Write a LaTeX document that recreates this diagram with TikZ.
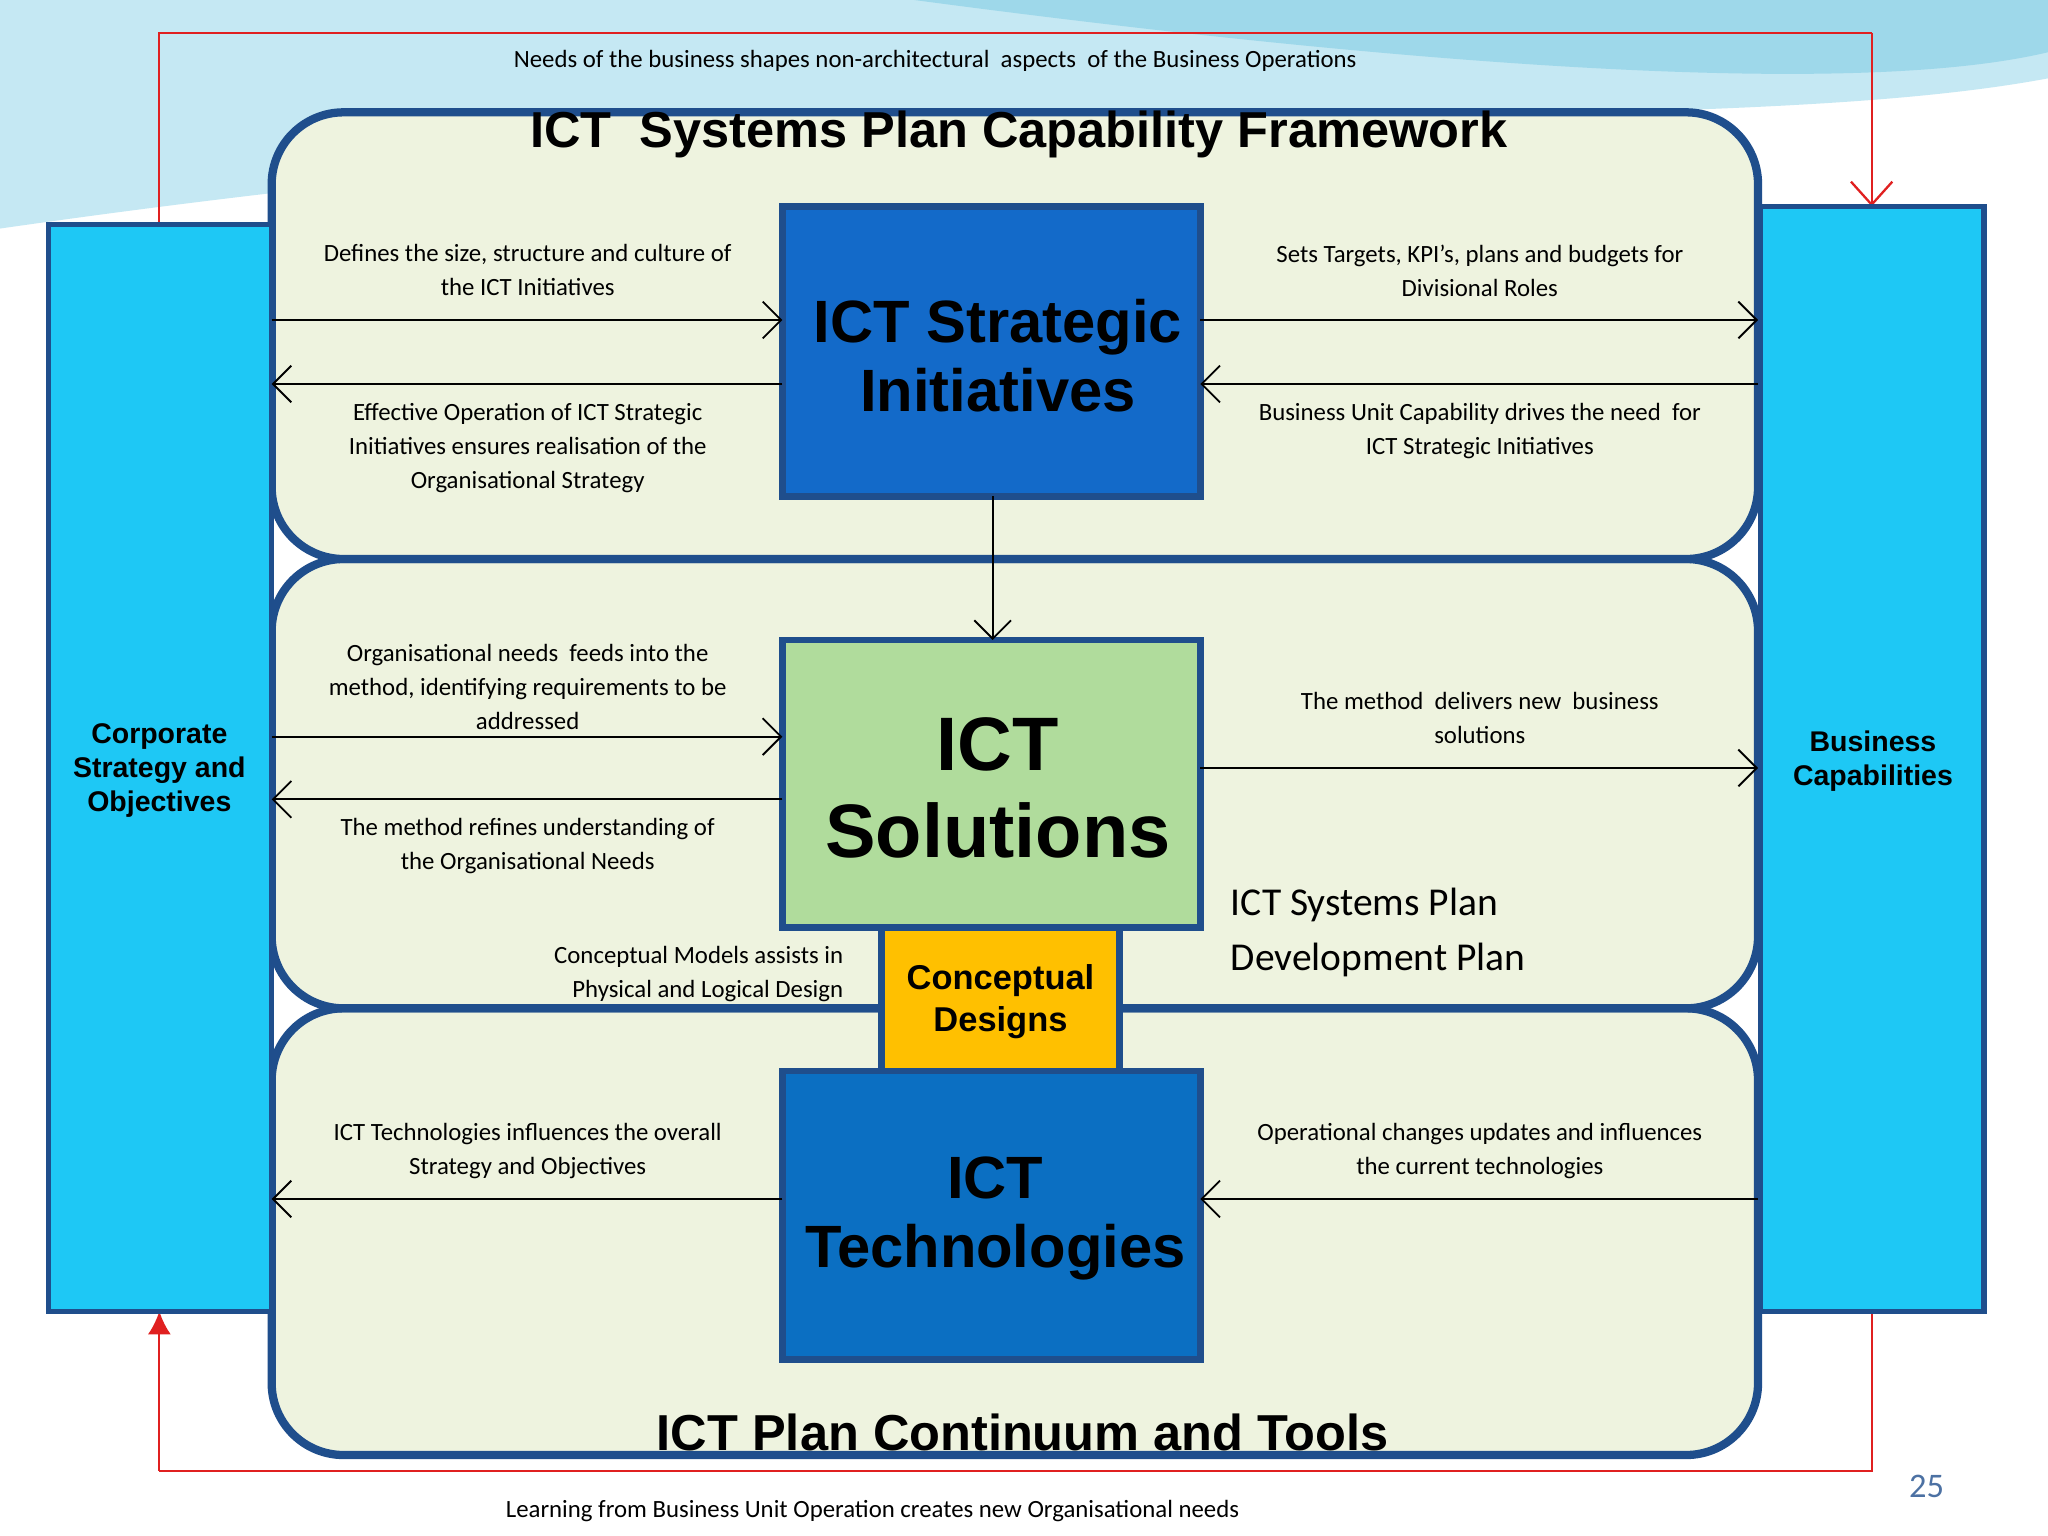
\documentclass[tikz,border=0pt]{standalone}
\usepackage{fontspec}
\setmainfont{Carlito}
\newfontfamily\hd{Liberation Sans}
\usetikzlibrary{arrows.meta}
\definecolor{barc}{HTML}{1EC8F5}
\definecolor{edge}{HTML}{1F4E8C}
\definecolor{panel}{HTML}{EEF3DF}
\definecolor{sblue}{HTML}{136AC9}
\definecolor{tblue}{HTML}{0B6FC2}
\definecolor{sgreen}{HTML}{B0DC9C}
\definecolor{cyel}{HTML}{FFC000}
\definecolor{redl}{HTML}{E02020}
\definecolor{sky}{HTML}{9ED8EA}
\tikzset{
 bar/.style={draw=edge,line width=1.2pt,fill=barc},
 pan/.style={draw=edge,line width=1.8pt,fill=panel,rounded corners=0.55cm},
 box/.style={draw=edge,line width=1.5pt},
 lab/.style={font=\fontsize{5.4}{7.4}\selectfont,align=center},
 ar/.style={-{Straight Barb[length=4pt,width=8pt]},line width=0.4pt},
 red/.style={draw=redl,line width=0.5pt},
 big/.style={font=\hd\bfseries,align=center,inner sep=0pt}
}
\begin{document}
\begin{tikzpicture}[x=0.01cm,y=-0.01cm]
\useasboundingbox (0,0) rectangle (1568,1176);
\fill[white] (0,0) rectangle (1568,1176);
\fill[sky!60] (0,0) -- (1568,0) -- (1568,60) .. controls (1300,110) and (800,60) .. (0,175) -- cycle;
\fill[sky] (700,0) -- (1568,0) -- (1568,40) .. controls (1400,80) and (1000,40) .. (700,0);
% red loop
\draw[red] (122,172) -- (122,25) -- (1433,25);
\draw[red,-{Straight Barb[length=5pt,width=9pt]}] (1433,25) -- (1433,158);
\draw[red] (1433,1004) -- (1433,1126) -- (122,1126);
\draw[red,-{Latex[length=5pt,width=5pt]}] (122,1126) -- (122,1004);
\node[lab] at (716,47) {Needs of the business shapes non-architectural\ \ aspects\ \ of the Business Operations};
\node[lab] at (668,1157) {Learning from Business Unit Operation creates new Organisational needs};
\node[font=\fontsize{7.5}{9}\selectfont,text=edge!80] at (1475,1138) {25};
% panels
\draw[pan] (208,772) rectangle (1346,1114);
\draw[pan] (208,428) rectangle (1346,772);
\draw[pan] (208,86) rectangle (1346,428);
% bars
\draw[bar] (37,172) rectangle (208,1004);
\draw[bar] (1348,158) rectangle (1519,1004);
\node[big,font=\hd\bfseries\fontsize{6.2}{7.4}\selectfont] (csb) at (122,590) {Corporate\\Strategy and\\Objectives};
\node[big,font=\hd\bfseries\fontsize{6.2}{7.4}\selectfont] (bcb) at (1434,583) {Business\\Capabilities};
\coordinate (L) at (208,0); \coordinate (R) at (1346,0);
% titles
\node[big,font=\hd\bfseries\fontsize{11}{12}\selectfont] at (780,103) {ICT\ \ Systems Plan Capability Framework};
\node[big,font=\hd\bfseries\fontsize{11}{12}\selectfont] at (783,1097) {ICT Plan Continuum and Tools};
% boxes
\draw[box,fill=sblue] (599,158) rectangle (919,380);
\node[big,font=\hd\bfseries\fontsize{13}{15}\selectfont] (st) at (764,272) {ICT Strategic\\Initiatives};
\draw[box,fill=sgreen] (599,490) rectangle (919,710);
\node[big,font=\hd\bfseries\fontsize{16.5}{19}\selectfont] (so) at (764,603) {ICT\\Solutions};
\draw[box,fill=cyel] (675,710) rectangle (857,820);
\node[big,font=\hd\bfseries\fontsize{7.5}{9}\selectfont] (cd) at (766,767) {Conceptual\\Designs};
\draw[box,fill=tblue] (599,820) rectangle (919,1041);
\node[big,font=\hd\bfseries\fontsize{13}{15}\selectfont] (te) at (762,933) {ICT\\Technologies};
% arrows top
\draw[ar] (208,245) -- (599,245);
\draw[ar] (599,294) -- (208,294);
\draw[ar] (919,245) -- (1346,245);
\draw[ar] (1346,294) -- (919,294);
\draw[ar] (760,380) -- (760,490);
\node[lab] at (404,207) {Defines the size, structure and culture of\\the ICT Initiatives};
\node[lab] at (404,343) {Effective Operation of ICT Strategic\\Initiatives ensures realisation of the\\Organisational Strategy};
\node[lab] at (1133,207) {Sets Targets, KPI’s, plans and budgets for\\Divisional Roles};
\node[lab] at (1133,330) {Business Unit Capability drives the need\ \ for\\ICT Strategic Initiatives};
% middle
\draw[ar] (208,564) -- (599,564);
\draw[ar] (599,612) -- (208,612);
\draw[ar] (919,588) -- (1346,588);
\node[lab] at (404,526) {Organisational needs\ \ feeds into the\\method, identifying requirements to be\\addressed};
\node[lab] at (404,648) {The method refines understanding of\\the Organisational Needs};
\node[lab] at (1133,550) {The method\ \ delivers new\ \ business\\solutions};
\node[lab,align=right,anchor=east] at (658,746) {Conceptual Models assists in\\Physical and Logical Design};
\node[align=left,anchor=west,font=\fontsize{8.6}{12}\selectfont] at (930,714) {ICT Systems Plan\\Development Plan};
% bottom
\draw[ar] (599,918) -- (208,918);
\draw[ar] (1346,918) -- (919,918);
\node[lab] at (404,881) {ICT Technologies influences the overall\\Strategy and Objectives};
\node[lab] at (1133,881) {Operational changes updates and influences\\the current technologies};
\end{tikzpicture}
\end{document}
